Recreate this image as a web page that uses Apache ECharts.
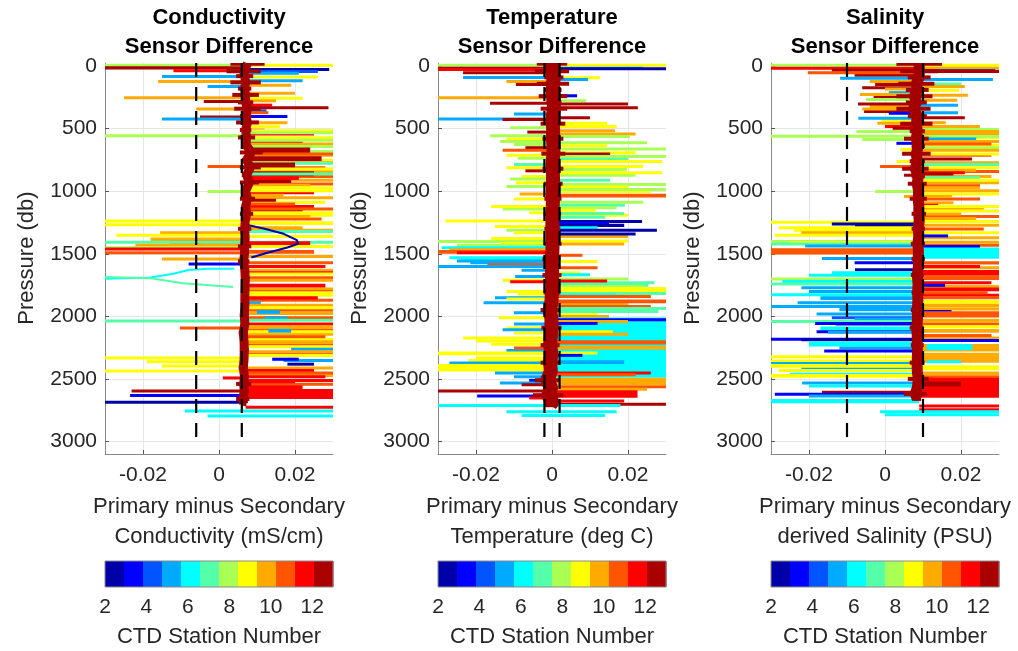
<!DOCTYPE html>
<html>
<head>
<meta charset="utf-8">
<script src="https://cdn.jsdelivr.net/npm/echarts@6/dist/echarts.min.js"></script>
<style>
  html, body { margin: 0; padding: 0; background: #fff; }
  #chart { width: 1018px; height: 651px; }
</style>
</head>
<body>
<div id="chart"></div>
<script>
// axis ticks
const pressureTicks = [0, 500, 1000, 1500, 2000, 2500, 3000];
const diffTicks = [-0.02, 0, 0.02];
const stationTicks = [2, 4, 6, 8, 10, 12];
const stationRange = [2, 13];

// dashed limit lines for each panel
const condDashes = [-0.006, 0.006];
const tempDashes = [-0.002, 0.002];
const salDashes = [-0.01, 0.01];

// typical offset where the spikes leave the core trace
const condBase = 0.007;
const tempBase = 0.0005;
const salBase = 0.009;

// dense core of all profiles: [pressure, left edge, right edge]
const condCore = [
  [-20, 0.003, 0.012], [40, 0.002, 0.011], [80, 0.0045, 0.009], [130, 0.003, 0.011],
  [180, 0.005, 0.0085], [230, 0.0035, 0.0105], [290, 0.005, 0.009], [340, 0.004, 0.011],
  [400, 0.0055, 0.0085], [450, 0.0045, 0.0105], [510, 0.0055, 0.0085], [570, 0.005, 0.0095],
  [630, 0.006, 0.0082], [690, 0.0055, 0.0115], [750, 0.006, 0.0085], [810, 0.0055, 0.011],
  [870, 0.006, 0.0085], [930, 0.0055, 0.0105], [1000, 0.006, 0.008], [1060, 0.0055, 0.0095],
  [1120, 0.006, 0.008], [1180, 0.0055, 0.009], [1240, 0.006, 0.0078], [1300, 0.005, 0.0085],
  [1370, 0.006, 0.0078], [1440, 0.005, 0.0085], [1500, 0.0058, 0.0076], [1560, 0.005, 0.008],
  [1630, 0.006, 0.0076], [1700, 0.0058, 0.008], [1780, 0.0062, 0.0075], [1850, 0.0058, 0.0078],
  [1920, 0.0062, 0.0074], [1990, 0.0055, 0.0078], [2060, 0.0062, 0.0074], [2130, 0.0052, 0.0076],
  [2200, 0.006, 0.0072], [2270, 0.0055, 0.0078], [2340, 0.006, 0.0072], [2410, 0.0052, 0.0076],
  [2480, 0.006, 0.0074], [2540, 0.0045, 0.0085], [2600, 0.0055, 0.0078], [2660, 0.0045, 0.008],
  [2700, 0.0058, 0.0072]
];
const tempCore = [
  [-20, -0.004, 0.004], [40, -0.0045, 0.0045], [90, -0.002, 0.003], [140, -0.004, 0.0045],
  [190, -0.002, 0.0025], [240, -0.0035, 0.004], [290, -0.0015, 0.0025], [340, -0.003, 0.004],
  [400, -0.0015, 0.002], [460, -0.003, 0.0035], [520, -0.0012, 0.0018], [580, -0.0025, 0.003],
  [640, -0.001, 0.0018], [700, -0.0028, 0.0035], [760, -0.0012, 0.0016], [820, -0.0025, 0.003],
  [880, -0.001, 0.0015], [940, -0.0022, 0.0028], [1000, -0.001, 0.0015], [1060, -0.002, 0.0025],
  [1120, -0.001, 0.0014], [1180, -0.0022, 0.0024], [1240, -0.0012, 0.0014], [1300, -0.002, 0.0022],
  [1360, -0.0012, 0.0015], [1420, -0.0022, 0.0025], [1480, -0.0012, 0.0014], [1540, -0.0025, 0.0022],
  [1600, -0.0012, 0.0013], [1670, -0.0025, 0.0025], [1740, -0.0012, 0.0014], [1810, -0.0022, 0.0022],
  [1880, -0.0015, 0.0012], [1950, -0.003, 0.002], [2020, -0.0015, 0.0012], [2090, -0.0028, 0.0025],
  [2160, -0.0016, 0.001], [2230, -0.003, 0.002], [2300, -0.0015, 0.0012], [2370, -0.003, 0.002],
  [2440, -0.0018, 0.0012], [2510, -0.0045, 0.002], [2570, -0.002, 0.0015], [2630, -0.005, 0.003],
  [2680, -0.0015, 0.0018], [2710, -0.002, 0.001]
];
const salCore = [
  [-20, 0.003, 0.015], [40, 0.004, 0.014], [90, 0.006, 0.012], [140, 0.0035, 0.013],
  [190, 0.0055, 0.0115], [240, 0.003, 0.0125], [290, 0.0055, 0.011], [340, 0.003, 0.012],
  [400, 0.006, 0.011], [460, 0.004, 0.0125], [520, 0.0065, 0.0105], [580, 0.005, 0.0115],
  [640, 0.007, 0.0105], [700, 0.0045, 0.012], [760, 0.0065, 0.0105], [820, 0.0045, 0.0115],
  [880, 0.007, 0.0105], [940, 0.006, 0.011], [1000, 0.0075, 0.0102], [1060, 0.0065, 0.011],
  [1120, 0.0078, 0.01], [1180, 0.007, 0.0108], [1240, 0.008, 0.01], [1300, 0.007, 0.0105],
  [1360, 0.008, 0.0098], [1420, 0.0068, 0.0105], [1480, 0.0078, 0.0098], [1540, 0.007, 0.0105],
  [1600, 0.0078, 0.0098], [1670, 0.0068, 0.0102], [1740, 0.0078, 0.0096], [1810, 0.007, 0.0102],
  [1880, 0.0078, 0.0095], [1950, 0.0068, 0.0102], [2020, 0.0076, 0.0095], [2090, 0.0065, 0.0102],
  [2160, 0.0075, 0.0095], [2230, 0.0068, 0.0102], [2300, 0.0076, 0.0095], [2370, 0.0065, 0.0104],
  [2440, 0.0074, 0.0096], [2500, 0.006, 0.0115], [2560, 0.0072, 0.01], [2620, 0.005, 0.011],
  [2660, 0.0075, 0.0095]
];

// background excursions (drawn first): [pressure, thickness (db), far end, station]
const condFill = [
  [530, 15, 0.025, 12], [600, 12, 0.022, 13], [620, 10, 0.03, 9], [670, 10, 0.03, 8],
  [700, 15, 0.03, 10], [740, 10, 0.03, 9], [800, 15, 0.028, 11], [830, 10, 0.03, 10],
  [870, 12, 0.03, 11], [900, 10, 0.03, 10], [930, 10, 0.03, 11], [1000, 12, 0.025, 12],
  [1040, 10, 0.03, 10], [1075, 10, 0.028, 9], [1110, 15, 0.025, 12], [1150, 10, 0.022, 13],
  [1180, 10, 0.03, 9], [1210, 12, 0.027, 11], [1560, 15, 0.03, 11], [1590, 15, 0.028, 12],
  [1680, 20, 0.03, 11], [1700, 15, 0.03, 10], [1770, 15, 0.03, 10], [1820, 15, 0.03, 9],
  [1860, 15, 0.03, 11], [1940, 10, 0.03, 11], [2050, 15, 0.03, 12], [2090, 10, 0.03, 11],
  [2130, 15, 0.03, 10], [2170, 15, 0.03, 9], [2210, 15, 0.03, 11], [2290, 10, 0.03, 11],
  [2460, 10, 0.03, 10], [2500, 10, 0.03, 12], [2530, 15, 0.03, 11]
];
const tempFill = [
  [470, 10, 0.017, 9], [480, 10, -0.011, 8], [530, 10, 0.022, 10], [570, 10, -0.012, 9],
  [600, 10, 0.025, 8], [615, 10, -0.01, 8], [680, 10, 0.022, 9], [725, 10, -0.009, 8],
  [730, 10, 0.02, 7], [790, 10, 0.024, 9], [800, 10, -0.012, 9], [860, 10, 0.022, 8],
  [870, 10, -0.008, 9], [950, 10, -0.012, 8], [990, 10, 0.026, 9], [1050, 10, -0.01, 9],
  [1075, 10, 0.024, 8], [1130, 10, -0.013, 8], [1180, 10, 0.02, 9], [1350, 10, 0.02, 10],
  [1365, 10, -0.016, 9], [1600, 10, 0.012, 11], [1620, 10, -0.008, 5], [1690, 10, 0.02, 8],
  [1720, 10, 0.027, 7], [1790, 10, -0.012, 9], [1840, 10, -0.015, 5], [1890, 10, 0.02, 10],
  [1960, 10, -0.01, 5], [2000, 10, -0.014, 9], [2050, 10, -0.01, 5], [2120, 10, -0.01, 9],
  [2260, 10, -0.012, 5], [2320, 10, -0.02, 9], [2470, 10, -0.01, 5], [2550, 10, 0.03, 11],
  [2570, 10, 0.025, 10]
];
const salFill = [
  [60, 10, -0.008, 13], [110, 10, -0.004, 10], [160, 10, -0.006, 13], [230, 10, -0.003, 13],
  [310, 10, -0.004, 10], [350, 10, -0.0055, 13], [420, 10, -0.001, 9], [470, 10, 0.0, 12],
  [470, 10, 0.025, 10], [520, 10, 0.03, 9], [560, 10, 0.03, 9], [620, 10, 0.03, 9],
  [700, 15, 0.028, 11], [760, 12, 0.03, 10], [800, 10, 0.03, 9], [830, 12, 0.03, 11],
  [870, 10, 0.028, 10], [920, 12, 0.03, 10], [945, 10, 0.025, 11], [1010, 10, 0.03, 9],
  [1050, 12, 0.025, 11], [1130, 10, 0.026, 10], [1190, 10, 0.03, 11], [1230, 10, 0.03, 9],
  [1360, 15, 0.03, 10], [1420, 10, 0.03, 11], [1600, 15, 0.03, 10], [1660, 10, 0.03, 11],
  [1750, 10, 0.03, 10], [1820, 10, 0.03, 12], [1930, 15, 0.03, 10], [2050, 15, 0.03, 11],
  [2160, 10, 0.03, 10], [2290, 10, 0.03, 10], [2470, 10, 0.03, 11]
];

// excursions: [pressure, thickness (db), far end, station, optional near end]
const condSpikes = [
  [-20, 14, -0.03, 8], [-20, 14, 0.03, 9], [0, 26, -0.03, 13], [25, 14, -0.012, 12],
  [15, 10, 0.029, 2], [30, 10, 0.026, 4], [45, 10, 0.021, 5], [70, 10, -0.015, 5],
  [75, 10, 0.026, 9], [105, 10, 0.022, 5], [110, 10, -0.016, 10], [140, 10, 0.019, 10],
  [150, 10, -0.003, 5], [205, 10, 0.02, 10], [240, 12, -0.025, 10], [245, 10, 0.022, 9],
  [265, 10, 0.015, 10], [270, 10, -0.004, 13], [300, 10, 0.014, 12], [320, 10, 0.0288, 13],
  [330, 10, -0.006, 10], [345, 10, 0.0125, 4], [360, 10, 0.013, 11], [390, 10, 0.018, 3],
  [395, 10, -0.005, 13], [410, 12, -0.015, 5], [440, 12, 0.018, 10], [470, 10, 0.016, 9],
  [500, 10, 0.012, 11], [505, 10, 0.03, 9], [520, 15, 0.03, 8], [545, 14, -0.03, 8],
  [560, 15, 0.03, 9], [580, 20, 0.03, 8], [610, 15, 0.03, 10], [630, 12, 0.03, 8],
  [650, 60, 0.024, 13], [690, 20, 0.03, 11], [720, 40, 0.027, 13], [760, 15, 0.03, 10],
  [765, 10, 0.03, 7], [770, 60, 0.02, 13], [790, 10, -0.003, 11], [810, 12, 0.03, 9],
  [840, 40, 0.025, 13], [850, 12, 0.03, 7], [880, 30, 0.021, 12], [910, 20, 0.019, 13],
  [940, 15, 0.024, 10], [960, 12, 0.03, 9], [985, 15, 0.03, 9], [990, 10, -0.003, 8],
  [1020, 25, 0.017, 10], [1060, 20, 0.015, 13], [1090, 15, 0.02, 11], [1130, 15, 0.03, 11],
  [1160, 20, 0.03, 9], [1190, 12, 0.024, 10], [1225, 14, -0.03, 9], [1240, 30, 0.03, 9],
  [1255, 20, -0.03, 9], [1280, 15, 0.022, 10], [1300, 25, 0.03, 10], [1310, 8, 0.03, 7],
  [1320, 15, -0.0155, 10], [1340, 12, -0.027, 9], [1350, 20, 0.03, 9], [1370, 40, -0.018, 10],
  [1395, 20, -0.013, 11], [1395, 10, -0.03, 7], [1395, 8, 0.03, 7], [1400, 30, 0.024, 12],
  [1420, 30, -0.022, 10], [1430, 15, 0.03, 9], [1440, 10, -0.03, 8], [1450, 20, -0.03, 12],
  [1470, 30, 0.025, 11], [1480, 20, -0.03, 11], [1510, 20, 0.03, 10], [1530, 12, -0.015, 10],
  [1570, 10, -0.008, 3], [1620, 12, 0.03, 10], [1640, 25, 0.03, 12], [1650, 10, 0.03, 9],
  [1740, 30, 0.028, 12], [1790, 15, 0.03, 11], [1800, 15, 0.03, 9], [1840, 25, 0.026, 12],
  [1880, 12, 0.011, 5], [1900, 20, 0.03, 10], [1920, 10, 0.03, 9], [1960, 30, 0.03, 10],
  [2000, 20, 0.03, 11], [1950, 30, 0.016, 5, 0.010], [2000, 20, 0.018, 5, 0.012],
  [2020, 10, 0.03, 7], [2025, 10, -0.03, 7], [2070, 30, 0.03, 10], [2080, 12, -0.0103, 11],
  [2110, 15, 0.03, 9], [2100, 30, 0.019, 5, 0.013], [2150, 20, 0.028, 11], [2190, 30, 0.03, 10],
  [2230, 15, 0.03, 9], [2250, 20, 0.03, 5, 0.019], [2270, 15, 0.03, 10], [2300, 15, 0.03, 9],
  [2320, 12, -0.03, 9], [2340, 20, 0.03, 5, 0.017], [2330, 25, 0.021, 3, 0.014],
  [2350, 25, -0.019, 9], [2370, 15, 0.025, 2, 0.018], [2385, 15, -0.015, 9], [2400, 20, 0.03, 10],
  [2420, 15, 0.025, 12], [2425, 12, -0.03, 9], [2440, 20, 0.03, 11], [2470, 25, 0.028, 12],
  [2480, 10, 0.001, 12], [2510, 15, 0.02, 12], [2550, 30, 0.022, 12], [2580, 80, 0.03, 12],
  [2585, 18, -0.023, 13], [2620, 10, -0.0234, 3], [2675, 10, -0.03, 2], [2715, 12, 0.03, 12],
  [2745, 10, 0.03, 6, -0.009], [2785, 10, 0.03, 6, -0.003]
];
const tempSpikes = [
  [-20, 14, -0.03, 8], [-20, 14, 0.03, 9], [5, 8, 0.024, 5], [8, 10, 0.03, 2],
  [5, 25, -0.03, 13], [15, 15, -0.03, 12], [40, 15, -0.0234, 13], [78, 10, -0.0234, 5],
  [80, 10, 0.0126, 9], [95, 8, 0.0095, 5], [110, 10, -0.012, 10], [135, 10, -0.0095, 13],
  [225, 8, 0.0066, 3], [240, 12, -0.03, 10], [265, 8, 0.009, 8], [285, 12, -0.0163, 13],
  [290, 10, 0.02, 13], [320, 10, 0.0226, 13], [370, 8, -0.01, 5], [400, 10, 0.01, 13],
  [410, 12, -0.03, 5], [415, 10, -0.013, 13], [445, 10, 0.0145, 9], [505, 12, 0.0166, 10],
  [515, 10, -0.0065, 13], [545, 12, -0.0163, 8], [550, 10, 0.0205, 8], [590, 10, -0.0137, 8],
  [625, 10, 0.0145, 9], [640, 10, -0.007, 13], [650, 12, 0.03, 8], [660, 10, -0.013, 11],
  [690, 10, 0.0153, 13], [700, 10, -0.012, 9], [710, 10, 0.03, 8], [750, 10, 0.029, 9],
  [775, 10, -0.01, 7], [815, 10, 0.0197, 8], [825, 10, -0.007, 13], [840, 12, 0.029, 9],
  [890, 10, -0.011, 8], [900, 10, 0.0153, 7], [920, 10, -0.0095, 9], [935, 10, 0.03, 8],
  [955, 10, 0.02, 9], [975, 10, 0.03, 8], [1010, 10, -0.0085, 10], [1020, 30, 0.03, 11],
  [1100, 10, 0.0192, 7], [1110, 10, -0.016, 9], [1120, 10, 0.017, 8], [1140, 10, 0.0115, 9],
  [1160, 10, -0.006, 9], [1165, 10, 0.019, 7], [1195, 10, 0.014, 7], [1225, 12, -0.028, 9],
  [1230, 20, 0.0237, 2], [1245, 10, 0.015, 3], [1260, 25, 0.019, 2], [1270, 20, -0.015, 9],
  [1280, 8, 0.012, 6], [1300, 20, 0.0276, 2], [1300, 10, -0.012, 8], [1320, 15, -0.01, 9],
  [1330, 15, 0.022, 2], [1385, 10, 0.02, 9], [1390, 12, -0.03, 8], [1405, 15, -0.0137, 9],
  [1410, 12, 0.019, 10], [1420, 10, -0.025, 8], [1440, 10, -0.029, 6], [1455, 10, -0.027, 10],
  [1470, 30, -0.03, 11], [1480, 12, -0.025, 12], [1500, 15, 0.008, 11], [1520, 10, -0.027, 6],
  [1535, 10, -0.024, 6], [1545, 10, -0.025, 5], [1550, 10, 0.012, 9], [1560, 10, -0.0215, 5],
  [1575, 8, -0.017, 11], [1590, 12, -0.03, 5], [1640, 10, 0.0074, 9], [1655, 8, 0.01, 6],
  [1670, 10, -0.0097, 5], [1700, 10, -0.013, 9], [1705, 10, 0.0145, 12], [1712, 8, -0.011, 12],
  [1740, 10, 0.0253, 7], [1750, 10, 0.024, 8], [1765, 12, 0.03, 9], [1785, 15, 0.03, 9],
  [1805, 12, 0.03, 7], [1810, 10, -0.009, 9], [1820, 10, 0.017, 6], [1830, 10, 0.026, 11],
  [1850, 12, -0.012, 9], [1865, 30, 0.03, 11], [1880, 10, -0.018, 5], [1910, 40, 0.026, 11],
  [1925, 20, 0.03, 7], [1950, 15, 0.028, 7], [1975, 12, 0.012, 9], [1990, 10, 0.015, 10],
  [2010, 480, 0.03, 6], [2015, 8, 0.03, 3], [2030, 10, 0.02, 10], [2045, 8, 0.012, 3],
  [2080, 10, -0.012, 9], [2095, 10, -0.013, 5], [2110, 10, 0.016, 9], [2130, 20, 0.02, 10],
  [2160, 15, -0.0234, 9], [2185, 15, -0.02, 9], [2190, 35, 0.03, 11], [2210, 15, -0.016, 9],
  [2235, 30, 0.03, 10], [2240, 10, -0.01, 11], [2280, 30, -0.03, 9], [2280, 10, 0.012, 9],
  [2300, 8, 0.008, 3], [2340, 15, -0.022, 9], [2350, 30, 0.019, 5], [2360, 10, -0.027, 5],
  [2380, 60, -0.03, 9], [2440, 12, 0.026, 12], [2440, 10, -0.015, 5], [2455, 12, 0.022, 11],
  [2490, 60, 0.03, 10], [2500, 8, -0.006, 3], [2520, 10, -0.0137, 5], [2535, 10, -0.008, 13],
  [2585, 14, -0.03, 13], [2590, 60, 0.0225, 12], [2625, 10, -0.0197, 3], [2640, 10, -0.006, 12],
  [2665, 20, 0.019, 12], [2690, 10, 0.03, 13], [2700, 14, 0.018, 6, -0.03],
  [2750, 10, 0.017, 6, -0.012], [2780, 10, 0.014, 6, -0.008]
];
const salSpikes = [
  [-20, 14, -0.03, 8], [-20, 14, 0.03, 9], [5, 20, -0.03, 12], [5, 15, 0.03, 10],
  [20, 12, -0.014, 13], [25, 8, 0.029, 2], [30, 12, 0.03, 13], [40, 12, -0.0203, 11],
  [85, 10, -0.0118, 5], [95, 8, 0.0284, 5], [130, 8, 0.02, 7], [135, 10, -0.0026, 13],
  [150, 8, 0.021, 10], [170, 10, 0.0, 10], [180, 10, 0.0195, 9], [200, 8, 0.001, 5],
  [215, 10, -0.0066, 10], [220, 10, 0.0218, 10], [255, 10, -0.005, 8], [260, 10, 0.019, 10],
  [290, 12, -0.0071, 13], [300, 8, 0.0192, 5], [330, 10, -0.006, 10], [360, 10, 0.0192, 5],
  [365, 8, 0.001, 3], [400, 12, 0.021, 13], [405, 10, -0.007, 5], [440, 10, 0.016, 10],
  [445, 10, -0.002, 10], [485, 10, 0.002, 13], [495, 10, 0.03, 8], [510, 15, 0.03, 10],
  [510, 10, -0.0075, 8], [530, 15, 0.03, 10], [548, 12, -0.03, 8], [550, 10, 0.03, 8],
  [570, 8, 0.024, 5], [575, 10, -0.006, 8], [590, 12, 0.03, 10], [605, 8, 0.003, 3],
  [610, 20, 0.028, 11], [640, 10, 0.03, 8], [655, 10, 0.004, 9], [660, 25, 0.03, 10],
  [690, 10, 0.03, 9], [730, 25, 0.0229, 13], [750, 10, 0.003, 9], [775, 10, 0.03, 7],
  [790, 10, -0.0013, 11], [820, 20, 0.024, 10], [840, 10, 0.021, 12], [850, 20, 0.018, 13],
  [860, 12, 0.005, 13], [880, 10, 0.025, 7], [900, 10, 0.03, 9], [960, 15, 0.025, 10],
  [985, 15, 0.03, 10], [990, 10, -0.0026, 8], [1030, 8, 0.005, 10], [1030, 12, 0.0176, 10],
  [1080, 20, 0.018, 10], [1100, 10, 0.014, 12], [1110, 15, 0.03, 9], [1145, 20, 0.03, 9],
  [1170, 10, 0.02, 10], [1205, 15, 0.024, 10], [1235, 10, -0.03, 9], [1250, 12, -0.014, 2],
  [1260, 45, -0.0079, 2], [1260, 20, 0.03, 10], [1280, 10, -0.028, 9], [1290, 20, 0.026, 11],
  [1300, 10, -0.024, 9], [1320, 10, -0.022, 10], [1320, 15, 0.03, 9], [1340, 10, -0.029, 9],
  [1345, 8, 0.0166, 3], [1390, 10, -0.03, 8], [1395, 25, 0.03, 10], [1400, 10, -0.025, 9],
  [1410, 10, -0.03, 7], [1425, 10, -0.021, 5], [1430, 8, 0.025, 3], [1450, 90, 0.03, 6],
  [1455, 50, -0.03, 11], [1525, 10, -0.0166, 5], [1560, 8, -0.008, 3], [1560, 25, 0.03, 11],
  [1590, 15, 0.025, 12], [1615, 10, -0.0079, 2], [1630, 40, 0.03, 12], [1640, 12, -0.014, 6],
  [1660, 10, -0.02, 6], [1680, 30, 0.03, 11], [1690, 10, -0.03, 8], [1710, 10, -0.027, 6],
  [1720, 20, 0.028, 12], [1730, 10, -0.03, 7], [1740, 8, 0.0158, 3], [1760, 20, -0.022, 5],
  [1770, 30, 0.03, 12], [1790, 20, -0.02, 5], [1800, 20, 0.027, 11], [1815, 12, -0.03, 6],
  [1840, 30, -0.017, 5], [1840, 20, 0.03, 11], [1870, 30, 0.03, 9], [1880, 20, -0.023, 5],
  [1900, 30, 0.03, 10], [1910, 12, -0.03, 5], [1930, 30, -0.012, 5], [1950, 8, 0.0175, 3],
  [1960, 50, 0.03, 11], [1970, 20, -0.018, 5], [2000, 20, -0.014, 4], [2010, 30, -0.008, 5],
  [2020, 30, 0.03, 10], [2030, 10, -0.03, 7], [2045, 8, -0.0184, 3], [2050, 8, -0.013, 3],
  [2070, 20, 0.03, 9], [2080, 30, -0.017, 6], [2100, 30, 0.03, 10], [2110, 8, -0.018, 3],
  [2115, 20, -0.015, 5], [2140, 20, 0.028, 11], [2170, 12, -0.03, 3], [2175, 8, -0.022, 2],
  [2180, 8, 0.03, 3], [2200, 40, -0.02, 6], [2220, 60, 0.03, 10], [2220, 50, 0.023, 6, 0.011],
  [2240, 20, -0.012, 5], [2265, 8, -0.016, 3], [2310, 20, -0.03, 9], [2310, 60, 0.03, 10],
  [2345, 15, -0.03, 9], [2350, 20, 0.02, 6, 0.011], [2365, 10, -0.03, 5], [2380, 30, -0.03, 9],
  [2390, 40, 0.03, 9], [2410, 8, -0.022, 5], [2420, 25, -0.028, 9], [2440, 30, 0.03, 10],
  [2450, 10, -0.025, 6], [2460, 30, -0.03, 9], [2490, 160, 0.03, 12], [2520, 12, -0.0218, 5],
  [2520, 40, 0.02, 13], [2545, 10, -0.02, 6], [2595, 10, -0.0166, 13], [2610, 8, -0.029, 3],
  [2625, 8, -0.02, 5], [2660, 35, -0.03, 6], [2705, 10, 0.03, 12], [2735, 8, 0.03, 12],
  [2750, 12, 0.03, 6, -0.0013], [2775, 8, 0.03, 6, 0.0]
];

// individual station profiles drawn as lines: [pressure, difference]
const condStation2 = [[1270, 0.0075], [1300, 0.012], [1340, 0.017], [1390, 0.0205], [1420, 0.0208], [1450, 0.018], [1490, 0.013], [1530, 0.0085]];
const condStation6 = [[1700, -0.03], [1690, -0.018], [1660, -0.012], [1630, -0.008], [1620, -0.003], [1620, 0.004]];
const condStation7 = [[1685, -0.03], [1695, -0.018], [1735, -0.0095], [1765, 0.0037]];

const JET = ['#0000aa', '#0000ff', '#0055ff', '#00aaff', '#00ffff', '#55ffaa',
             '#aaff55', '#ffff00', '#ffaa00', '#ff5500', '#ff0000', '#aa0000'];
const CORE = '#a30000';
const FONT = '"Liberation Sans", Arial, Helvetica, sans-serif';
const TXT = '#262626';

const panels = [
  {left: 105, title: ['Conductivity', 'Sensor Difference'], xname: ['Primary minus Secondary', 'Conductivity (mS/cm)'],
   fill: condFill, spikes: condSpikes, core: condCore, coreWidth: 9, base: condBase, dashes: condDashes,
   lines: [[condStation2, 2], [condStation6, 6], [condStation7, 7]]},
  {left: 438, title: ['Temperature', 'Sensor Difference'], xname: ['Primary minus Secondary', 'Temperature (deg C)'],
   fill: tempFill, spikes: tempSpikes, core: tempCore, coreWidth: 14, base: tempBase, dashes: tempDashes, lines: []},
  {left: 771, title: ['Salinity', 'Sensor Difference'], xname: ['Primary minus Secondary', 'derived Salinity (PSU)'],
   fill: salFill, spikes: salSpikes, core: salCore, coreWidth: 11, base: salBase, dashes: salDashes, lines: []}
];
const W = 228;

let myChart = echarts.init(document.getElementById('chart'));

let grid = [], xAxis = [], yAxis = [], series = [], graphic = [];

// horizontal excursion bars, drawn through the axes
function spikeSeries(rows, base, gi, z) {
  return {
    type: 'custom', xAxisIndex: gi, yAxisIndex: gi, z: z, silent: true, clip: true,
    data: rows.map(r => [r[0], r[1], r.length > 4 ? r[4] : base, r[2], r[3]]),
    renderItem: (params, api) => {
      const a = api.coord([api.value(2), api.value(0)]);
      const b = api.coord([api.value(3), api.value(0) + api.value(1)]);
      return {
        type: 'rect',
        shape: {x: Math.min(a[0], b[0]), y: a[1], width: Math.abs(b[0] - a[0]), height: Math.max(b[1] - a[1], 3)},
        style: {fill: JET[api.value(4) - 2]}
      };
    }
  };
}

panels.forEach((pn, i) => {
  grid.push({left: pn.left, top: 63, width: W, height: 391});
  xAxis.push({
    gridIndex: i, type: 'value', min: -0.03, max: 0.03,
    axisLine: {show: true, onZero: false, lineStyle: {color: '#8a8a8a'}},
    axisTick: {show: true, inside: true, length: 4, customValues: diffTicks, lineStyle: {color: '#555'}},
    axisLabel: {customValues: diffTicks, fontSize: 21, color: TXT, margin: 11, fontFamily: FONT,
                formatter: v => v === 0 ? '0' : v.toFixed(2)},
    splitLine: {show: true, lineStyle: {color: '#e6e6e6'}}
  });
  yAxis.push({
    gridIndex: i, type: 'value', inverse: true, min: -25, max: 3100,
    axisLine: {show: true, onZero: false, lineStyle: {color: '#8a8a8a'}},
    axisTick: {show: true, inside: true, length: 4, customValues: pressureTicks, lineStyle: {color: '#555'}},
    axisLabel: {customValues: pressureTicks, fontSize: 21, color: TXT, margin: 8, fontFamily: FONT,
                formatter: v => String(v)},
    splitLine: {show: true, lineStyle: {color: '#e6e6e6'}}
  });

  series.push(spikeSeries(pn.fill, pn.base, i, 1));
  series.push(spikeSeries(pn.spikes, pn.base, i, 2));

  // single station profiles
  pn.lines.forEach(([arr, st]) => {
    series.push({
      type: 'line', xAxisIndex: i, yAxisIndex: i, z: 3, silent: true, showSymbol: false,
      data: arr.map(d => [d[1], d[0]]),
      lineStyle: {color: JET[st - 2], width: 2}
    });
  });

  // dense dark red core: a wiggly trace plus short horizontal spreads
  series.push({
    type: 'line', xAxisIndex: i, yAxisIndex: i, z: 4, silent: true, showSymbol: false,
    data: pn.core.map(r => [(r[1] + r[2]) / 2, r[0]]),
    lineStyle: {color: CORE, width: pn.coreWidth}
  });
  series.push({
    type: 'custom', xAxisIndex: i, yAxisIndex: i, z: 4, silent: true, clip: true,
    data: pn.core,
    renderItem: (params, api) => {
      const a = api.coord([api.value(1), api.value(0)]);
      const b = api.coord([api.value(2), api.value(0)]);
      return {type: 'rect', shape: {x: a[0], y: a[1] - 2, width: b[0] - a[0], height: 4}, style: {fill: CORE}};
    }
  });

  // dashed limits
  pn.dashes.forEach(d => {
    series.push({
      type: 'line', xAxisIndex: i, yAxisIndex: i, z: 5, silent: true, showSymbol: false,
      data: [[d, -25], [d, 3040]],
      lineStyle: {color: '#000', width: 2.2, type: [14, 10]}
    });
  });

  const cx = pn.left + W / 2;
  graphic.push(
    {type: 'text', x: cx, y: 18, style: {text: pn.title[0], fontSize: 22, fontWeight: 'bold', fontFamily: FONT, fill: '#000', align: 'center', verticalAlign: 'middle'}},
    {type: 'text', x: cx, y: 47, style: {text: pn.title[1], fontSize: 22, fontWeight: 'bold', fontFamily: FONT, fill: '#000', align: 'center', verticalAlign: 'middle'}},
    {type: 'text', x: cx, y: 507, style: {text: pn.xname[0], fontSize: 22, fontFamily: FONT, fill: TXT, align: 'center', verticalAlign: 'middle'}},
    {type: 'text', x: cx, y: 537, style: {text: pn.xname[1], fontSize: 22, fontFamily: FONT, fill: TXT, align: 'center', verticalAlign: 'middle'}},
    {type: 'text', x: cx, y: 637, style: {text: 'CTD Station Number', fontSize: 22, fontFamily: FONT, fill: TXT, align: 'center', verticalAlign: 'middle'}},
    {type: 'text', x: pn.left - 78, y: 258, rotation: Math.PI / 2, style: {text: 'Pressure (db)', fontSize: 22, fontFamily: FONT, fill: TXT, align: 'center', verticalAlign: 'middle'}},
    {type: 'rect', shape: {x: pn.left, y: 561, width: W, height: 26}, style: {fill: null, stroke: '#8a8a8a', lineWidth: 1}, z: 100}
  );
});

// colorbars
panels.forEach((pn, i) => {
  const gi = 3 + i;
  grid.push({left: pn.left, top: 561, width: W, height: 26});
  xAxis.push({
    gridIndex: gi, type: 'value', min: stationRange[0], max: stationRange[1],
    axisLine: {show: false},
    axisTick: {show: true, inside: true, length: 3, customValues: stationTicks, lineStyle: {color: '#333'}},
    axisLabel: {customValues: stationTicks, fontSize: 21, color: TXT, margin: 10, fontFamily: FONT},
    splitLine: {show: false}
  });
  yAxis.push({gridIndex: gi, type: 'value', min: 0, max: 1, show: false});
  series.push({
    type: 'custom', xAxisIndex: gi, yAxisIndex: gi, z: 2, silent: true,
    data: JET.map((c, k) => [k]),
    renderItem: (params, api) => {
      const k = api.value(0);
      const step = (stationRange[1] - stationRange[0]) / JET.length;
      const a = api.coord([stationRange[0] + k * step, 1]);
      const b = api.coord([stationRange[0] + (k + 1) * step, 0]);
      return {type: 'rect', shape: {x: a[0], y: a[1], width: b[0] - a[0] + 0.5, height: b[1] - a[1]}, style: {fill: JET[k]}};
    }
  });
});

myChart.setOption({
  animation: false,
  backgroundColor: '#fff',
  textStyle: {fontFamily: FONT},
  grid: grid,
  xAxis: xAxis,
  yAxis: yAxis,
  series: series,
  graphic: graphic
});
window.addEventListener('resize', () => myChart.resize());
</script>
</body>
</html>
